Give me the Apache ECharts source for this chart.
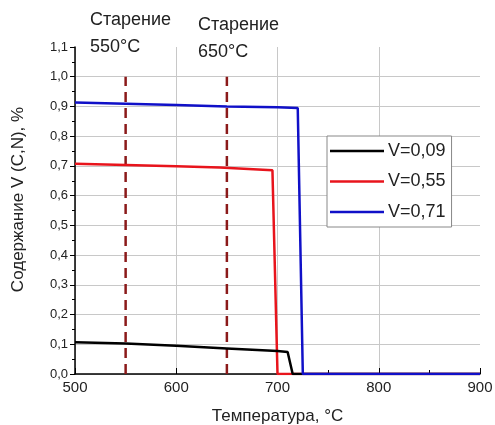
<!DOCTYPE html>
<html><head><meta charset="utf-8">
<script src="https://cdn.jsdelivr.net/npm/echarts@6/dist/echarts.min.js"></script>
<style>html,body{margin:0;padding:0;background:#fff}#c{width:495px;height:425px}</style>
</head><body><div id="c"></div>
<script>
const seriesNames = ['V=0,09', 'V=0,55', 'V=0,71'];
const tempBlack = [500, 550, 600, 650, 700, 710, 715, 900];
const valBlack  = [0.107, 0.103, 0.095, 0.086, 0.077, 0.074, 0, 0];
const tempRed   = [500, 550, 600, 643, 695, 700, 900];
const valRed    = [0.707, 0.703, 0.699, 0.695, 0.685, 0, 0];
const tempBlue  = [500, 550, 600, 650, 700, 720, 725, 900];
const valBlue   = [0.913, 0.909, 0.905, 0.900, 0.897, 0.895, 0, 0];
const agingTemps = [550, 650];
const agingTop = 1.0;
const agingLabels = ['Старение', 'Старение'];
const agingTempLabels = ['550°C', '650°C'];
const xTicks = [500, 600, 700, 800, 900];
const yTicks = [0, 0.1, 0.2, 0.3, 0.4, 0.5, 0.6, 0.7, 0.8, 0.9, 1.0, 1.1];

const zip = (a, b) => a.map((x, i) => [x, b[i]]);
const font = 'Liberation Sans, Arial, sans-serif';
const chart = echarts.init(document.getElementById('c'), null, {renderer: 'canvas'});

const dashSeries = agingTemps.map(t => ({
  type: 'line', silent: true, symbol: 'none', z: 1,
  data: [[t, 0], [t, agingTop]],
  lineStyle: {color: '#8b1a1a', width: 2.5, type: [10, 6]}
}));
const colors = ['#000', '#e8141c', '#1010c8'];

chart.setOption({
  animation: false,
  textStyle: {fontFamily: font},
  grid: {left: 75, right: 15, top: 47, bottom: 51, outerBoundsMode: 'none', containLabel: false},
  xAxis: {
    type: 'value', min: xTicks[0], max: xTicks[xTicks.length - 1], interval: 100,
    name: 'Температура, °C', nameLocation: 'middle', nameGap: 34,
    nameTextStyle: {fontSize: 17, color: '#222', fontFamily: font},
    axisLine: {show: true, lineStyle: {color: '#000', width: 1.5}},
    axisTick: {show: true, inside: true, length: 6, lineStyle: {color: '#000'}},
    minorTick: {show: true, splitNumber: 2, length: 4, lineStyle: {color: '#000'}},
    axisLabel: {fontSize: 15, color: '#222', margin: 6, fontFamily: font},
    splitLine: {show: true, showMaxLine: false, lineStyle: {color: '#c8c8c8', width: 1}}
  },
  yAxis: {
    type: 'value', min: 0, max: 1.1, interval: 0.1,
    name: 'Содержание V (C,N), %', nameLocation: 'middle', nameGap: 48,
    nameTextStyle: {fontSize: 17, color: '#222', fontFamily: font, padding: [0, 0, 0, 22]},
    axisLine: {show: true, lineStyle: {color: '#000', width: 1.5}},
    axisTick: {show: true, inside: false, length: 5, lineStyle: {color: '#000'}},
    minorTick: {show: true, splitNumber: 2, length: 3, lineStyle: {color: '#000'}},
    axisLabel: {fontSize: 13, color: '#222', margin: 7, fontFamily: font,
      formatter: v => v.toFixed(1).replace('.', ',')},
    splitLine: {show: true, showMaxLine: false, lineStyle: {color: '#c8c8c8', width: 1}}
  },
  legend: {
    orient: 'vertical', left: 327, top: 136,
    data: seriesNames.map((n, i) => ({name: n, icon: 'rect', itemStyle: {color: colors[i]}})),
    itemWidth: 54, itemHeight: 2.5, itemGap: 12.5,
    backgroundColor: '#fff', borderColor: '#888', borderWidth: 1, borderRadius: 0,
    padding: [6, 6, 6, 3],
    textStyle: {fontSize: 18, color: '#222', fontFamily: font, padding: [0, 0, 0, -1]}
  },
  graphic: [
    {type: 'text', left: 90, top: 11, style: {text: agingLabels[0], font: '18px ' + font, fill: '#222'}},
    {type: 'text', left: 90, top: 38, style: {text: agingTempLabels[0], font: '18px ' + font, fill: '#222'}},
    {type: 'text', left: 198, top: 16, style: {text: agingLabels[1], font: '18px ' + font, fill: '#222'}},
    {type: 'text', left: 198, top: 43, style: {text: agingTempLabels[1], font: '18px ' + font, fill: '#222'}}
  ],
  series: [
    ...dashSeries,
    {name: seriesNames[0], type: 'line', symbol: 'none', z: 3, data: zip(tempBlack, valBlack),
      lineStyle: {color: colors[0], width: 2.5}, itemStyle: {color: colors[0]}},
    {name: seriesNames[1], type: 'line', symbol: 'none', z: 2, data: zip(tempRed, valRed),
      lineStyle: {color: colors[1], width: 2.5}, itemStyle: {color: colors[1]}},
    {name: seriesNames[2], type: 'line', symbol: 'none', z: 4, data: zip(tempBlue, valBlue),
      lineStyle: {color: colors[2], width: 2.5}, itemStyle: {color: colors[2]}}
  ]
});
</script></body></html>
